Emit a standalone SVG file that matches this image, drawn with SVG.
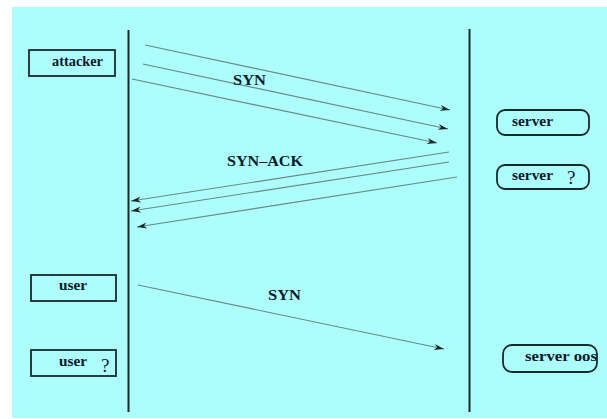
<svg xmlns="http://www.w3.org/2000/svg" width="607" height="419" viewBox="0 0 607 419">
<defs>
<style>
.t{font-family:"Liberation Serif","Times New Roman",serif;font-weight:bold;font-size:14px;fill:#0a1a2a}
.q{font-family:"Liberation Serif","Times New Roman",serif;font-size:19px;fill:#0a1a2a}
.box{fill:none;stroke:#1a2a2a;stroke-width:1.8}
.life{stroke:#1a2a2a;stroke-width:2}
.msg{stroke:#6a8888;stroke-width:1.2;fill:none;marker-end:url(#ah)}
</style>
<marker id="ah" viewBox="0 0 10 6" refX="10" refY="3" markerWidth="11" markerHeight="6" markerUnits="userSpaceOnUse" orient="auto">
<path d="M0,0 L10,3 L0,6 L3,3 Z" fill="#1a2a2a"/>
</marker>
</defs>
<rect x="0" y="0" width="607" height="419" fill="#ffffff"/>
<rect x="12" y="7" width="595" height="411" fill="#adfdfd"/>
<g id="lifelines">
<line class="life" x1="128.5" y1="30" x2="128.5" y2="412"/>
<line class="life" x1="469.5" y1="29" x2="469.5" y2="412"/>
</g>
<g id="attacker"><rect class="box" x="29" y="50" width="86" height="26"/><text class="t" x="52" y="66" textLength="51" lengthAdjust="spacingAndGlyphs">attacker</text></g>
<g id="server1"><rect class="box" x="497" y="110" width="92" height="25" rx="8"/><text class="t" x="512" y="126" textLength="41" lengthAdjust="spacingAndGlyphs">server</text></g>
<g id="server2"><rect class="box" x="497" y="165" width="92" height="24" rx="8"/><text class="t" x="512" y="180" textLength="41" lengthAdjust="spacingAndGlyphs">server</text><text class="q" x="567" y="184">?</text></g>
<g id="user1"><rect class="box" x="31" y="275" width="85" height="26"/><text class="t" x="59" y="290" textLength="28" lengthAdjust="spacingAndGlyphs">user</text></g>
<g id="user2"><rect class="box" x="31" y="350" width="85" height="26"/><text class="t" x="59" y="366" textLength="28" lengthAdjust="spacingAndGlyphs">user</text><text class="q" x="101" y="372">?</text></g>
<g id="server3"><rect class="box" x="503" y="345" width="94" height="27" rx="9"/><text class="t" x="525" y="361" textLength="72" lengthAdjust="spacingAndGlyphs">server  oos</text></g>
<g id="connectors">
<line class="msg" x1="145" y1="45" x2="450" y2="110"/>
<line class="msg" x1="143" y1="64" x2="448" y2="129"/>
<line class="msg" x1="132" y1="79" x2="437" y2="143"/>
<line class="msg" x1="449" y1="152" x2="131" y2="201"/>
<line class="msg" x1="449" y1="162" x2="131" y2="211"/>
<line class="msg" x1="457" y1="177" x2="137" y2="227"/>
<line class="msg" x1="138" y1="285" x2="444" y2="349"/>
<text class="t" x="233" y="85" textLength="33" lengthAdjust="spacingAndGlyphs">SYN</text>
<text class="t" x="227" y="166" textLength="76" lengthAdjust="spacingAndGlyphs">SYN–ACK</text>
<text class="t" x="268" y="300" textLength="33" lengthAdjust="spacingAndGlyphs">SYN</text>
</g>
</svg>
